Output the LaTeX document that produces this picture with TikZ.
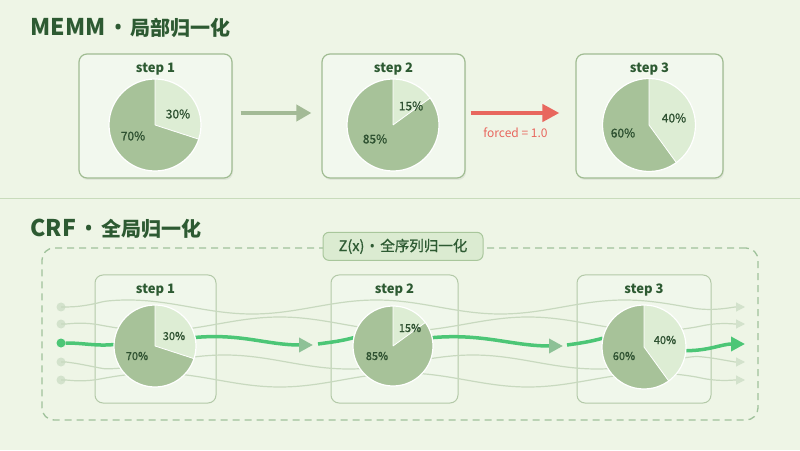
\documentclass[tikz,border=0pt]{standalone}
\usepackage{fontspec}
\setmainfont{Noto Sans CJK SC}
\newfontfamily\latinf{Noto Sans}
\newfontfamily\medf{Noto Sans CJK SC}[FakeBold=0.9]
\usepackage{xcolor}
\usepackage{tikz}
\usetikzlibrary{arrows.meta,positioning,calc,shadows}

\definecolor{bgc}{HTML}{EEF5E6}
\definecolor{titlec}{HTML}{2D5A32}
\definecolor{boxline}{HTML}{A0BC92}
\definecolor{boxfill}{HTML}{F2F8EE}
\definecolor{piedark}{HTML}{A7C299}
\definecolor{pielight}{HTML}{DDEDD4}
\definecolor{pctc}{HTML}{2E5131}
\definecolor{grayarr}{HTML}{A3BA96}
\definecolor{redc}{HTML}{E8675E}
\definecolor{sepc}{HTML}{C8DBBB}
\definecolor{dashc}{HTML}{A0C29C}
\definecolor{zfill}{HTML}{DBEBD1}
\definecolor{zline}{HTML}{A8C69B}
\definecolor{greenc}{HTML}{4CC676}
\definecolor{midhead}{HTML}{8DC196}
\definecolor{faintc}{HTML}{C8D9BF}
\definecolor{dotc}{HTML}{D3E2CC}

\newcommand{\sep}{{\latinf\hspace{0.36em}•\hspace{0.36em}}}
\newcommand{\cjksmall}{\fontsize{20}{24}\selectfont}

% pie: node name, radius, light share in percent
\newcommand{\drawpie}[3]{%
  \fill[piedark] (#1.center) circle[radius=#2];
  \fill[pielight] (#1.center) -- ++(90:#2) arc[start angle=90, delta angle={-3.6*#3}, radius=#2] -- cycle;
  \draw[white, line width=1.2pt] (#1.center) circle[radius=#2];
  \draw[white, line width=0.8pt] (#1.center) -- ++(90:#2) (#1.center) -- ++({90-3.6*#3}:#2);
}

\begin{document}
\begin{tikzpicture}[x=1pt, y=1pt,
  box/.style={draw=boxline, fill=boxfill, rounded corners=8pt, line width=1.2pt,
    drop shadow={opacity=0.12, shadow xshift=1pt, shadow yshift=-2pt}},
  sbox/.style={draw=boxline!80, fill=boxfill, fill opacity=0.7, draw opacity=1, rounded corners=8pt, line width=1pt},
  title/.style={anchor=base west, text=titlec, font=\bfseries\fontsize{23}{26}\selectfont},
  steplab/.style={anchor=base, text=titlec, font=\bfseries\fontsize{13}{15}\selectfont},
  pct/.style={text=pctc, font=\medf\fontsize{12}{14}\selectfont},
  spct/.style={text=pctc, font=\medf\fontsize{11}{13}\selectfont},
  pienode/.style={circle, inner sep=0pt, minimum size=#1},
  grarr/.style={draw=grayarr, line width=4pt, -{Triangle[length=15pt, width=16pt]}},
  redarr/.style={draw=redc, line width=4.5pt, -{Triangle[length=17pt, width=17pt]}},
  mainln/.style={draw=greenc, line width=3.5pt},
  midarr/.style={mainln, -{Triangle[length=14pt, width=14pt, color=midhead]}},
  endarr/.style={mainln, -{Triangle[length=14pt, width=14pt]}},
  faint/.style={draw=faintc, line width=1.2pt, -{Triangle[length=9pt, width=9pt, color=dotc]}},
  dot/.style={circle, fill=dotc, inner sep=0pt, minimum size=9pt}
]
\useasboundingbox (0,0) rectangle (800,450);
\fill[bgc] (0,0) rectangle (800,450);

% ---- MEMM ----
\node[title] (t1) at (27,414) {MEMM\sep{\cjksmall 局部归一化}};

\node[box, minimum width=153pt, minimum height=124pt] (b1) at (155.5,334) {};
\node[box, minimum width=143pt, minimum height=124pt] (b2) at (393.5,334) {};
\node[box, minimum width=147pt, minimum height=124pt] (b3) at (649.5,334) {};

\foreach \b/\n in {b1/1, b2/2, b3/3}
  \node[steplab] (s\n) at ($(\b.north)+(0,-19)$) {step \n};

\node[pienode=92pt] (p1) at (155,325) {};
\node[pienode=92pt] (p2) at (393,325) {};
\node[pienode=93pt] (p3) at (649,325) {};
\drawpie{p1}{46}{30}
\drawpie{p2}{46}{15}
\drawpie{p3}{46.5}{40}

\node[pct] (p1a) at ($(p1)+(23,11)$) {30\%};
\node[pct] (p1b) at ($(p1)+(-22,-11)$) {70\%};
\node[pct] (p2a) at ($(p2)+(18,19)$) {15\%};
\node[pct] (p2b) at ($(p2)+(-18,-14)$) {85\%};
\node[pct] (p3a) at ($(p3)+(25,7)$) {40\%};
\node[pct] (p3b) at ($(p3)+(-26,-8)$) {60\%};

\draw[grarr, shorten <=8pt, shorten >=10pt] ([yshift=3pt]b1.east) -- ([yshift=3pt]b2.west);
\draw[redarr, shorten <=5pt, shorten >=16pt] ([yshift=3pt]b2.east) -- ([yshift=3pt]b3.west)
  node[midway, below=9pt, xshift=-5pt, text=redc, font=\fontsize{12}{14}\selectfont] (forced) {forced = 1.0};

\draw[sepc, line width=1pt] (0,251) -- (800,251);

% ---- CRF ----
\node[title] (t2) at (27,213) {CRF\sep{\cjksmall 全局归一化}};

\node[draw=dashc, line width=1.3pt, dash pattern=on 7pt off 5pt, rounded corners=12pt,
  minimum width=716pt, minimum height=172pt] (zone) at (400,116) {};

\node[sbox, minimum width=121pt, minimum height=128pt] (c1) at (155.5,111) {};
\node[sbox, minimum width=127pt, minimum height=128pt] (c2) at (394.5,111) {};
\node[sbox, minimum width=134pt, minimum height=128pt] (c3) at (644,111) {};

\foreach \b/\n in {c1/1, c2/2, c3/3}
  \node[steplab] (u\n) at ($(\b.north)+(0,-19)$) {step \n};

% faint paths
\foreach \i/\ya/\ph in {1/143/0, 2/126/140, 4/88/220, 5/70/320} {
  \node[dot] (d\i) at (61,\ya) {};
  \coordinate (e\i) at (745,\ya);
  \draw[faint] (d\i) -- plot[smooth, domain=66:735, samples=70]
    (\x, {\ya + 7*sin(1.45*(\x-66)+\ph)*min(1,(\x-66)/40)*min(1,(735-\x)/40)}) -- (e\i);
}

% pies
\node[pienode=82pt] (q1) at (155,104) {};
\node[pienode=80pt] (q2) at (393,104) {};
\node[pienode=84pt] (q3) at (644,103) {};

% main path
\node[dot, fill=greenc] (d3) at (61,107) {};
\coordinate (m1) at (313,105);
\coordinate (m1b) at (318,106);
\coordinate (m2) at (563,104);
\coordinate (m2b) at (567,105);
\coordinate (e3) at (745,106);
\draw[mainln] (d3) to[out=0, in=185] (q1.178);
\draw[midarr] (q1.12) to[out=5, in=180] (m1);
\draw[mainln] (m1b) to[out=8, in=195] (q2.168);
\draw[midarr] (q2.12) to[out=5, in=180] (m2);
\draw[mainln] (m2b) to[out=8, in=195] (q3.168);
\draw[endarr] (q3.355) to[out=0, in=180] (e3);

\drawpie{q1}{41}{30}
\drawpie{q2}{40}{15}
\drawpie{q3}{42}{40}

\node[spct] (q1a) at ($(q1)+(19,10)$) {30\%};
\node[spct] (q1b) at ($(q1)+(-18,-10)$) {70\%};
\node[spct] (q2a) at ($(q2)+(17,18)$) {15\%};
\node[spct] (q2b) at ($(q2)+(-16,-10)$) {85\%};
\node[spct] (q3a) at ($(q3)+(21,7)$) {40\%};
\node[spct] (q3b) at ($(q3)+(-20,-9)$) {60\%};

\node[draw=zline, fill=zfill, line width=1pt, rounded corners=6pt, minimum width=160pt, minimum height=28pt,
  text=titlec, font=\medf\fontsize{14.5}{16}\selectfont] (zlab) at ($(zone.north)+(3,1)$) {Z(x)\sep 全序列归一化};
\end{tikzpicture}
\end{document}
